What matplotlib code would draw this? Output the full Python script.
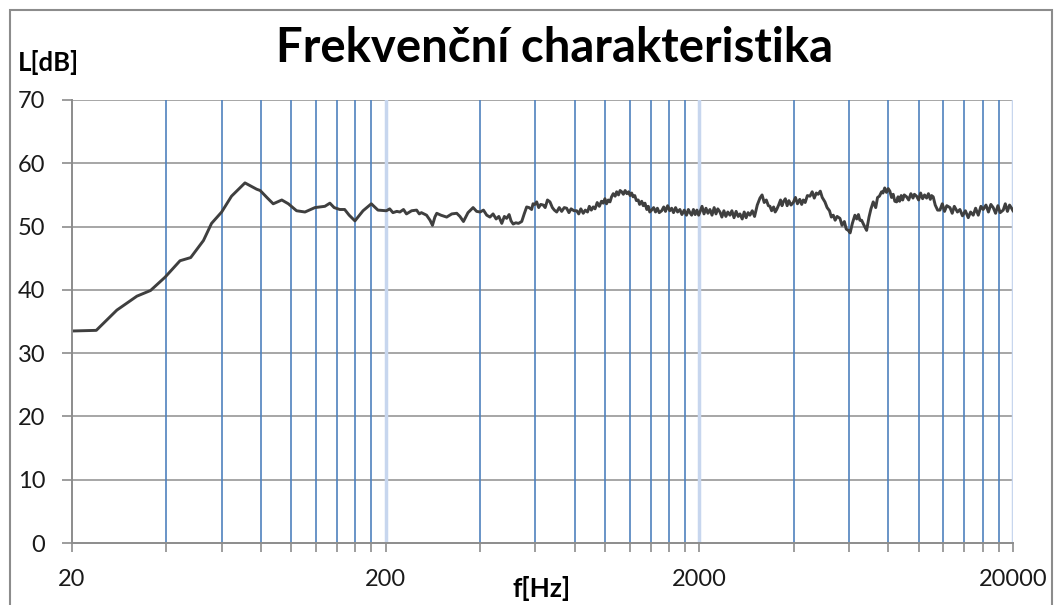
import matplotlib.pyplot as plt
from matplotlib.patches import Rectangle

# Frequency response (Hz, dB)
freq = [20, 23.9, 27.8, 32.2, 35.6, 39.6, 44.2, 47.8, 52.5, 55.7,
        60, 64.5, 71.2, 77.6, 79.6, 84, 87.6, 93.3, 97.9, 104,
        110.6, 119, 128, 132.8, 137, 142.8, 148, 153, 159.6, 169.4,
        180, 189, 201, 206, 211, 217, 222, 228, 233, 242,
        251, 256, 260, 270, 277, 282, 287, 291, 300, 313,
        325, 337, 345, 354, 366, 380, 390, 400, 410, 420,
        430, 440, 450, 459, 469, 478, 486, 495, 502, 510,
        520, 530, 543, 553, 563, 573, 584, 590, 598, 606,
        615, 624, 636, 645, 656, 668, 680, 690, 702, 715,
        728, 742, 755, 768, 780, 797, 813, 825, 838, 853,
        866, 880, 892, 905, 918, 930, 945, 960, 975, 988,
        1000, 1012, 1025, 1038, 1050, 1063, 1078, 1090, 1105, 1118,
        1131, 1145, 1160, 1175, 1190, 1203, 1217, 1230, 1245, 1260,
        1277, 1290, 1310, 1325, 1342, 1360, 1375, 1390, 1409, 1430,
        1450, 1470, 1490, 1517, 1540, 1560, 1585, 1610, 1632, 1655,
        1680, 1705, 1734, 1760, 1790, 1820, 1845, 1867, 1890, 1915,
        1940, 1965, 1990, 2009, 2040, 2070, 2100, 2130, 2162, 2195,
        2230, 2260, 2290, 2327, 2360, 2395, 2430, 2465, 2504, 2540,
        2580, 2620, 2660, 2695, 2740, 2780, 2820, 2860, 2900, 2950,
        3000, 3060, 3121, 3170, 3220, 3270, 3320, 3359, 3400, 3450,
        3490, 3529, 3580, 3630, 3670, 3704, 3760, 3810, 3860, 3920,
        3986, 4050, 4110, 4180, 4240, 4289, 4350, 4420, 4506, 4580,
        4650, 4720, 4787, 4860, 4930, 5028, 5110, 5200, 5270, 5346,
        5420, 5500, 5614, 5700, 5800, 5880, 5968, 6050, 6150, 6266,
        6350, 6430, 6500, 6582, 6700, 6829, 6950, 7050, 7168, 7300,
        7400, 7500, 7622, 7700, 7800, 7900, 8002, 8100, 8200, 8300,
        8400, 8511, 8600, 8700, 8800, 8900, 9000, 9158, 9300, 9450,
        9600, 9700, 9856, 10000, 10150, 10300, 10450, 10608, 10750, 10900,
        11000, 11134, 11300, 11500, 11696, 11900, 12100, 12300, 12590, 12800,
        13000, 13300, 13546, 13800, 14100, 14400, 14650, 14934, 15200, 15500,
        15800, 16069, 16400, 16700, 17000, 17296, 17600, 17900, 18200, 18616,
        18900, 19200, 19500, 19794, 20000]
level = [33.5, 33.6, 36.8, 39.0, 39.9, 42.0, 44.6, 45.1, 47.8, 50.5,
         52.3, 54.8, 56.9, 55.9, 55.7, 54.5, 53.6, 54.2, 53.6, 52.5,
         52.3, 53.0, 53.2, 53.7, 53.0, 52.7, 52.7, 51.8, 50.9, 52.5,
         53.6, 52.6, 52.5, 52.8, 52.2, 52.4, 52.3, 52.7, 52.0, 52.5,
         52.6, 52.0, 52.2, 51.8, 51.0, 50.2, 51.5, 52.1, 51.8, 51.5,
         52.0, 52.1, 51.6, 50.8, 52.2, 53.0, 52.4, 52.3, 52.6, 51.8,
         51.5, 52.0, 51.2, 51.6, 50.5, 51.6, 51.3, 51.9, 50.9, 50.4,
         50.6, 50.5, 50.8, 52.0, 53.1, 53.0, 52.7, 53.6, 53.5, 53.9,
         53.0, 53.5, 53.4, 53.0, 54.2, 53.9, 53.0, 52.6, 52.3, 53.0,
         52.4, 53.0, 52.9, 52.2, 52.8, 52.5, 52.5, 52.0, 52.8, 52.1,
         52.6, 52.3, 53.2, 52.6, 53.1, 52.8, 53.8, 53.2, 54.0, 53.7,
         54.4, 53.6, 54.2, 53.9, 54.7, 55.2, 54.8, 55.5, 55.0, 55.7,
         55.5, 55.1, 55.7, 55.2, 55.5, 54.9, 55.3, 54.7, 54.9, 54.1,
         54.2, 53.5, 54.0, 53.3, 53.7, 52.7, 53.2, 52.3, 52.6, 53.0,
         52.3, 52.9, 52.2, 52.5, 53.1, 52.4, 53.3, 52.5, 52.9, 52.2,
         53.0, 52.3, 52.7, 51.9, 52.6, 51.8, 52.7, 52.2, 51.8, 52.7,
         51.9, 52.6, 51.8, 52.3, 53.2, 52.0, 52.9, 52.1, 52.7, 51.8,
         53.0, 52.0, 52.8, 52.3, 51.5, 52.5, 51.6, 52.3, 51.8, 52.5,
         51.4, 52.4, 51.6, 52.0, 51.2, 52.3, 51.4, 52.2, 51.8, 52.5,
         51.6, 53.4, 54.5, 55.0, 53.8, 54.2, 53.3, 53.2, 52.5, 53.1,
         52.3, 52.7, 53.4, 54.2, 53.3, 53.9, 54.4, 53.3, 54.1, 53.4,
         53.8, 54.6, 53.6, 54.3, 53.5, 54.2, 53.8, 54.9, 54.8, 55.5,
         54.5, 55.3, 55.1, 55.6, 54.6, 53.9, 53.0, 52.5, 51.5, 51.8,
         51.0, 51.6, 51.3, 50.2, 50.8, 49.6, 49.4, 49.0, 50.5, 51.8,
         51.2, 51.9, 51.0, 51.0, 50.2, 49.4, 51.5, 52.8, 53.9, 53.0,
         54.6, 54.8, 55.5, 55.3, 56.1, 55.4, 56.0, 55.6, 54.6, 55.1,
         54.0, 53.9, 54.7, 54.0, 54.9, 54.2, 55.0, 54.7, 54.2, 55.2,
         54.5, 55.1, 54.8, 54.2, 55.3, 54.4, 55.0, 54.5, 55.2, 54.3,
         54.9, 54.7, 53.4, 52.6, 52.6, 53.6, 52.4, 53.3, 53.0, 52.1,
         53.2, 52.3, 52.7, 51.7, 52.5, 51.4, 52.3, 51.8, 52.9, 51.8,
         53.2, 52.7, 53.4, 52.3, 53.5, 53.0, 52.1, 53.3, 52.2, 52.6,
         53.6, 52.4, 53.4, 52.9, 52.5]

major_f = [20, 200, 2000, 20000]
major_lbl = ['20', '200', '2000', '20000']
minor_f = [40, 60, 80, 100, 120, 140, 160, 180,
           400, 600, 800, 1000, 1200, 1400, 1600, 1800,
           4000, 6000, 8000, 10000, 12000, 14000, 16000, 18000]
y_ticks = [0, 10, 20, 30, 40, 50, 60, 70]

plt.rcParams['font.family'] = ['Lato', 'DejaVu Sans']

W, H = 1063, 605
fig = plt.figure(figsize=(W / 100, H / 100), dpi=100)
fig.patches.append(Rectangle((10 / W, -0.01), 1042 / W, 1 - 10 / H + 0.01,
                             transform=fig.transFigure, fill=False,
                             edgecolor='#8c8c8c', linewidth=1.5))

ax = fig.add_axes([72 / W, 1 - 543 / H, 941 / W, 443 / H])
ax.set_xscale('log')
ax.set_xlim(20, 20000)
ax.set_ylim(0, 70)

# grid: gray horizontal, blue vertical, pale blue on the decades
for y in y_ticks[1:]:
    ax.axhline(y, color='#a6a6a6', linewidth=1.4, zorder=1)
for f in minor_f:
    ax.axvline(f, color='#4f81bd', linewidth=1.2, zorder=1)
for f in major_f[1:]:
    ax.axvline(f, color='#c7d6ee', linewidth=2.5, zorder=1)

ax.plot(freq, level, color='#3f3f3f', linewidth=2.1, zorder=3)

ax.set_xticks(major_f)
ax.set_xticklabels(major_lbl)
ax.set_xticks(minor_f, minor=True)
ax.set_xticklabels([], minor=True)
ax.set_yticks(y_ticks)

for s in ['top', 'right']:
    ax.spines[s].set_visible(False)
for s in ['left', 'bottom']:
    ax.spines[s].set_color('#8c8c8c')
    ax.spines[s].set_linewidth(1.4)
ax.spines['left'].set_zorder(4)

ax.tick_params(axis='x', which='both', direction='out', length=6.5,
               width=1.2, color='#8c8c8c')
ax.tick_params(axis='x', which='major', labelsize=17, pad=12,
               labelcolor='#1a1a1a')
ax.tick_params(axis='y', direction='out', length=7.2, width=1.2,
               color='#8c8c8c', labelsize=17, pad=12, labelcolor='#1a1a1a')

fig.text(555 / W, 1 - 62 / H, 'Frekvenční charakteristika', ha='center',
         va='baseline', fontsize=34, fontweight='bold')
fig.text(18 / W, 1 - 71 / H, 'L[dB]', ha='left', va='baseline',
         fontsize=18.5, fontweight='bold')
fig.text(542 / W, 1 - 597 / H, 'f[Hz]', ha='center', va='baseline',
         fontsize=19, fontweight='bold')

fig.savefig('out.png', dpi=100)
